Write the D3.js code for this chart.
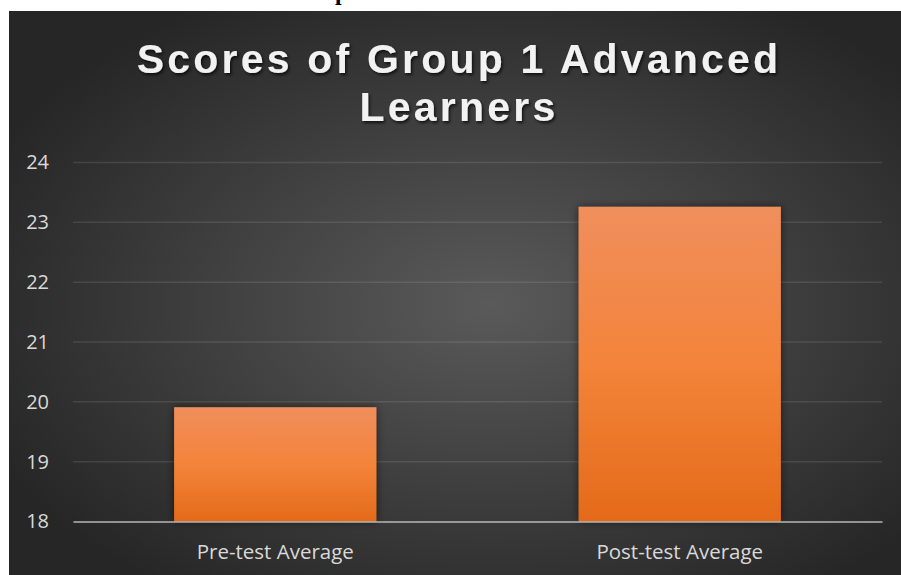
<!DOCTYPE html>
<html>
<head>
<meta charset="utf-8">
<script src="https://cdn.jsdelivr.net/npm/d3@7"></script>
<style>
  html, body { margin: 0; padding: 0; background: #ffffff; }
  svg { display: block; }
</style>
</head>
<body>
<svg id="chart" width="901" height="575"></svg>
<script>
// chart data
var categories = ["Pre-test Average", "Post-test Average"];
var scores = [19.91, 23.26];
var yTicks = [18, 19, 20, 21, 22, 23, 24];
var titleLines = ["Scores of Group 1 Advanced", "Learners"];

let svg = d3.select("#chart");
let width = 901, height = 575;

let defs = svg.append("defs");

// background radial gradient
let bg = defs.append("radialGradient").attr("id", "bgGrad")
  .attr("cx", "54%").attr("cy", "52%").attr("r", "62%");
bg.append("stop").attr("offset", "0%").attr("stop-color", "#5a5a5a");
bg.append("stop").attr("offset", "100%").attr("stop-color", "#262626");

// bar gradient
let bar = defs.append("linearGradient").attr("id", "barGrad")
  .attr("x1", 0).attr("y1", 0).attr("x2", 0).attr("y2", 1);
bar.append("stop").attr("offset", "0%").attr("stop-color", "#f08e5c");
bar.append("stop").attr("offset", "50%").attr("stop-color", "#f3843a");
bar.append("stop").attr("offset", "100%").attr("stop-color", "#e46a19");

// shadows
let barShadow = defs.append("filter").attr("id", "barShadow")
  .attr("x", "-10%").attr("y", "-10%").attr("width", "120%").attr("height", "120%");
barShadow.append("feDropShadow").attr("dx", 0).attr("dy", 0)
  .attr("stdDeviation", 4).attr("flood-color", "#000").attr("flood-opacity", 0.55);

let textShadow = defs.append("filter").attr("id", "textShadow")
  .attr("x", "-5%").attr("y", "-20%").attr("width", "110%").attr("height", "150%");
textShadow.append("feDropShadow").attr("dx", 1.5).attr("dy", 2)
  .attr("stdDeviation", 1.5).attr("flood-color", "#000").attr("flood-opacity", 0.7);

// page strip and the cut-off line of text above the chart
svg.append("rect").attr("width", width).attr("height", height).attr("fill", "#ffffff");
svg.append("text")
  .text("p")
  .attr("x", 335)
  .attr("y", 0)
  .style("font-family", "'Liberation Serif', serif")
  .style("font-weight", "bold")
  .style("font-size", "24px")
  .style("fill", "#000");

// chart area
svg.append("rect")
  .attr("x", 9).attr("y", 11)
  .attr("width", width - 9).attr("height", height - 11)
  .attr("fill", "url(#bgGrad)");

// Margin
let margin = { top: 162.5, right: 19, bottom: 53.5, left: 73 };
let plotWidth = width - margin.left - margin.right;
let plotHeight = height - margin.top - margin.bottom;

let yScale = d3.scaleLinear()
  .domain([18, 24])
  .range([plotHeight, 0]);

let xScale = d3.scaleBand()
  .domain(categories)
  .range([0, plotWidth])
  .paddingInner(0.5)
  .paddingOuter(0.25);

let plot = svg.append("g").attr("id", "plot")
  .attr("transform", "translate(" + margin.left + "," + margin.top + ")");

// gridlines
plot.selectAll("line.grid")
  .data(yTicks.filter(d => d !== 18))
  .enter().append("line")
  .attr("class", "grid")
  .attr("x1", 0).attr("x2", plotWidth)
  .attr("y1", d => yScale(d)).attr("y2", d => yScale(d))
  .attr("stroke", "#d9d9d9")
  .attr("stroke-opacity", 0.13)
  .attr("stroke-width", 1.5);

// bars
plot.selectAll("rect.bar")
  .data(scores)
  .enter().append("rect")
  .attr("class", "bar")
  .attr("x", (d, i) => xScale(categories[i]))
  .attr("y", d => yScale(d))
  .attr("width", xScale.bandwidth())
  .attr("height", d => plotHeight - yScale(d))
  .attr("fill", "url(#barGrad)")
  .attr("filter", "url(#barShadow)");

// y axis labels
let yAxis = d3.axisLeft(yScale).tickValues(yTicks).tickFormat(d3.format("d"))
  .tickSize(0).tickPadding(24);
let yGroup = plot.append("g").attr("id", "y-axis").call(yAxis);
yGroup.select(".domain").remove();
yGroup.selectAll("text")
  .style("fill", "#d9d9d9")
  .style("font-size", "20px")
  .style("font-family", "'Open Sans', sans-serif");

// x axis
let xAxis = d3.axisBottom(xScale).tickSize(0).tickPadding(23);
let xGroup = plot.append("g").attr("id", "x-axis")
  .attr("transform", "translate(0," + plotHeight + ")")
  .call(xAxis);
xGroup.select(".domain")
  .attr("stroke", "#d9d9d9")
  .attr("stroke-opacity", 0.6)
  .attr("stroke-width", 2);
xGroup.selectAll("text")
  .style("fill", "#d9d9d9")
  .style("font-size", "20.5px")
  .style("font-family", "'Open Sans', sans-serif");

// Title
svg.selectAll("text.title")
  .data(titleLines)
  .enter().append("text")
  .attr("class", "title")
  .text(d => d)
  .attr("x", 459)
  .attr("y", (d, i) => 73 + i * 48)
  .attr("text-anchor", "middle")
  .style("fill", "#f2f2f2")
  .style("font-size", "41px")
  .style("font-weight", "bold")
  .style("letter-spacing", "3.2px")
  .style("font-family", "'Liberation Sans', Arial, sans-serif")
  .attr("filter", "url(#textShadow)");
</script>
</body>
</html>
